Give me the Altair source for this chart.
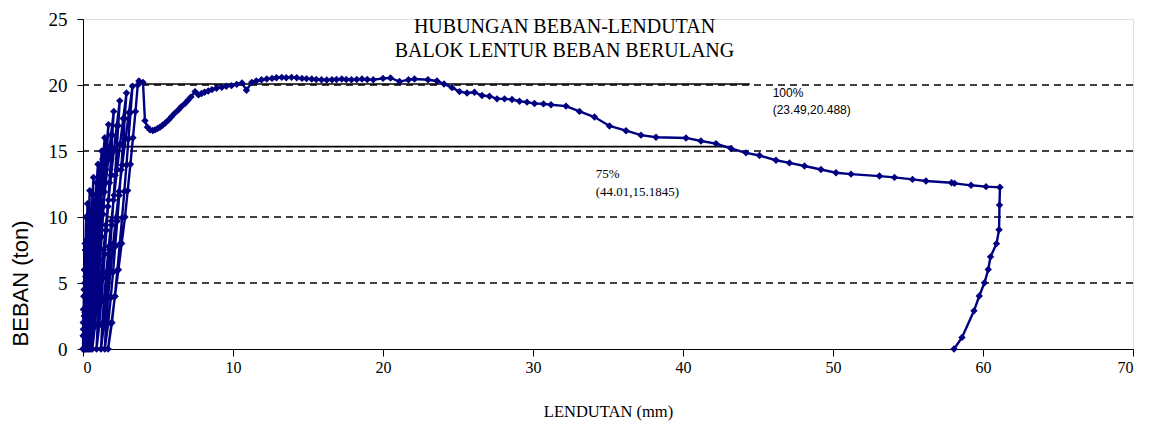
import altair as alt
import pandas as pd

# ---- cyclic loading loops (deflection mm, load ton) ----
loops_mm = [
    [0, 0.01, 0.02, 0.04, 0.06, 0.05, 0.04, 0.03, 0.02],
    [0.03, 0.05, 0.08, 0.10, 0.09, 0.07, 0.06, 0.04],
    [0.06, 0.08, 0.11, 0.14, 0.13, 0.11, 0.09, 0.07],
    [0.09, 0.12, 0.16, 0.20, 0.18, 0.16, 0.13, 0.10],
    [0.13, 0.18, 0.24, 0.30, 0.27, 0.23, 0.19, 0.14],
    [0.19, 0.27, 0.35, 0.45, 0.40, 0.34, 0.28, 0.20],
    [0.225, 0.262, 0.305, 0.352, 0.403, 0.458, 0.515, 0.574, 0.636, 0.70,
     0.665, 0.63, 0.593, 0.556, 0.517, 0.476, 0.434, 0.389, 0.338, 0.27],
    [0.307, 0.36, 0.423, 0.492, 0.566, 0.646, 0.729, 0.816, 0.907, 1.0,
     0.947, 0.894, 0.839, 0.782, 0.723, 0.662, 0.598, 0.529, 0.453, 0.35],
    [0.395, 0.461, 0.538, 0.624, 0.715, 0.814, 0.916, 1.023, 1.135, 1.25,
     1.184, 1.118, 1.049, 0.979, 0.905, 0.829, 0.749, 0.664, 0.568, 0.44],
    [0.491, 0.564, 0.651, 0.747, 0.85, 0.96, 1.075, 1.195, 1.321, 1.45,
     1.375, 1.3, 1.222, 1.142, 1.058, 0.972, 0.881, 0.784, 0.675, 0.53],
    [0.589, 0.674, 0.775, 0.886, 1.005, 1.133, 1.266, 1.405, 1.55, 1.7,
     1.613, 1.524, 1.432, 1.338, 1.24, 1.138, 1.033, 0.918, 0.791, 0.62],
    [0.692, 0.796, 0.919, 1.055, 1.201, 1.356, 1.519, 1.69, 1.867, 2.05,
     1.957, 1.863, 1.765, 1.665, 1.56, 1.452, 1.339, 1.217, 1.082, 0.9],
    [0.978, 1.091, 1.224, 1.371, 1.529, 1.698, 1.875, 2.059, 2.252, 2.45,
     2.349, 2.246, 2.14, 2.031, 1.918, 1.8, 1.678, 1.545, 1.398, 1.2],
    [1.285, 1.409, 1.555, 1.717, 1.89, 2.076, 2.269, 2.472, 2.682, 2.9,
     2.783, 2.664, 2.54, 2.414, 2.282, 2.146, 2.004, 1.85, 1.679, 1.45],
    [1.543, 1.678, 1.837, 2.012, 2.201, 2.403, 2.614, 2.834, 3.063, 3.3,
     3.168, 3.034, 2.896, 2.754, 2.606, 2.452, 2.293, 2.12, 1.928, 1.67],
    [1.9, 2.13, 2.36, 2.58, 2.8, 2.98, 3.16, 3.33, 3.5, 3.65, 3.73],
]
loops_ton = [
    [0, 1, 2, 3, 4, 3, 2, 1, 0],
    [1.5, 3, 4.5, 6, 4.5, 3, 1.5, 0],
    [2, 4, 6, 8, 6, 4, 2, 0],
    [2.5, 5, 7.5, 10, 7.5, 5, 2.5, 0],
    [2.75, 5.5, 8.25, 11, 8.25, 5.5, 2.75, 0],
    [3, 6, 9, 12, 9, 6, 3, 0],
    [1.3, 2.6, 3.9, 5.2, 6.5, 7.8, 9.1, 10.4, 11.7, 13,
     11.7, 10.4, 9.1, 7.8, 6.5, 5.2, 3.9, 2.6, 1.3, 0],
    [1.4, 2.8, 4.2, 5.6, 7, 8.4, 9.8, 11.2, 12.6, 14,
     12.6, 11.2, 9.8, 8.4, 7, 5.6, 4.2, 2.8, 1.4, 0],
    [1.5, 3, 4.5, 6, 7.5, 9, 10.5, 12, 13.5, 15,
     13.5, 12, 10.5, 9, 7.5, 6, 4.5, 3, 1.5, 0],
    [1.6, 3.2, 4.8, 6.4, 8, 9.6, 11.2, 12.8, 14.4, 16,
     14.4, 12.8, 11.2, 9.6, 8, 6.4, 4.8, 3.2, 1.6, 0],
    [1.7, 3.4, 5.1, 6.8, 8.5, 10.2, 11.9, 13.6, 15.3, 17,
     15.3, 13.6, 11.9, 10.2, 8.5, 6.8, 5.1, 3.4, 1.7, 0],
    [1.8, 3.6, 5.4, 7.2, 9, 10.8, 12.6, 14.4, 16.2, 18,
     16.2, 14.4, 12.6, 10.8, 9, 7.2, 5.4, 3.6, 1.8, 0],
    [1.88, 3.76, 5.64, 7.52, 9.4, 11.28, 13.16, 15.04, 16.92, 18.8,
     16.92, 15.04, 13.16, 11.28, 9.4, 7.52, 5.64, 3.76, 1.88, 0],
    [1.94, 3.88, 5.82, 7.76, 9.7, 11.64, 13.58, 15.52, 17.46, 19.4,
     17.46, 15.52, 13.58, 11.64, 9.7, 7.76, 5.82, 3.88, 1.94, 0],
    [1.99, 3.98, 5.97, 7.96, 9.95, 11.94, 13.93, 15.92, 17.91, 19.9,
     17.91, 15.92, 13.93, 11.94, 9.95, 7.96, 5.97, 3.98, 1.99, 0],
    [2, 4, 6, 8, 10, 12, 14, 16, 18, 20, 20.3],
]

# ---- post-peak curve ----
post_mm = [4.0, 4.13, 4.3, 4.47, 4.65, 4.8, 4.97, 5.13, 5.3, 5.47, 5.7, 5.9, 6.1, 6.35,
           6.55, 6.8, 7.0, 7.2, 7.47, 7.7, 7.9, 8.1, 8.35, 8.6, 8.9, 9.25, 9.55, 9.9,
           10.25, 10.6, 10.9, 11.25, 11.55, 11.9, 12.25, 12.6, 12.9, 13.25, 13.55, 13.9,
           14.25, 14.6, 14.9, 15.25, 15.55, 15.9, 16.25, 16.6, 16.9, 17.25, 17.55, 17.9,
           18.25, 18.6, 18.95, 19.35, 20.0, 20.5, 21.1, 21.7, 22.1, 23.0, 23.6, 24.07,
           24.6, 25.1, 25.6, 26.1, 26.6, 27.1, 27.6, 28.1, 28.6, 29.1, 29.6, 30.1, 30.7,
           31.2, 32.2, 33.1, 34.1, 35.1, 36.2, 37.2, 38.2, 40.2, 41.2, 42.2, 43.2, 44.2,
           45.1, 46.2, 47.1, 48.1, 49.2, 50.2, 51.2, 53.1, 54.1, 55.3, 56.2, 57.9, 58.1,
           59.2, 60.2, 61.13, 61.1, 61.07, 60.9, 60.5, 60.35, 60.1, 59.75, 59.4, 58.6, 58.07]
post_ton = [20.2, 17.3, 16.8, 16.6, 16.55, 16.6, 16.7, 16.8, 16.95, 17.1, 17.35, 17.6, 17.85,
            18.1, 18.35, 18.6, 18.85, 19.1, 19.5, 19.25, 19.35, 19.45, 19.55, 19.65, 19.75,
            19.83, 19.9, 19.95, 20.05, 20.16, 19.6, 20.2, 20.3, 20.4, 20.45, 20.5, 20.55,
            20.58, 20.55, 20.58, 20.55, 20.5, 20.48, 20.45, 20.42, 20.4, 20.38, 20.4, 20.42,
            20.45, 20.42, 20.4, 20.42, 20.45, 20.42, 20.4, 20.5, 20.53, 20.26, 20.4, 20.45,
            20.4, 20.3, 20.08, 19.8, 19.5, 19.4, 19.45, 19.2, 19.15, 18.95, 18.95, 18.9,
            18.77, 18.7, 18.6, 18.57, 18.5, 18.4, 18.0, 17.57, 16.9, 16.54, 16.2, 16.04,
            15.99, 15.76, 15.56, 15.19, 14.86, 14.66, 14.3, 14.1, 13.86, 13.6, 13.35, 13.25,
            13.1, 13.0, 12.85, 12.73, 12.6, 12.55, 12.4, 12.3, 12.25, 10.9, 9.04, 7.98,
            6.98, 6.02, 5.02, 4.02, 2.89, 0.88, 0.0]

# ---- reference lines (100% and 75%) ----
ref_start = [3.57, 1.58]
ref_end = [44.45, 43.3]
ref_load = [20.08, 15.33]

# ---- annotations ----
ann_text = ["100%", "(23.49,20.488)", "75%", "(44.01,15.1845)"]
ann_mm = [45.98, 45.98, 34.18, 34.18]
ann_ton = [19.39, 18.1, 13.26, 11.9]
ann_grp = ["a", "a", "b", "b"]

# ---- chart title (two lines, placed inside the plot) ----
title_lines = ["HUBUNGAN BEBAN-LENDUTAN", "BALOK LENTUR BEBAN BERULANG"]
title_mm = [32.1, 32.1]
title_ton = [24.39, 22.6]

grid_vals = [5, 10, 15, 20]
x_ticks = [0, 10, 20, 30, 40, 50, 60, 70]
y_ticks = [0, 5, 10, 15, 20, 25]

NAVY = "#000080"

mm_all, ton_all = [], []
for xs, ys in zip(loops_mm, loops_ton):
    assert len(xs) == len(ys)
    mm_all += xs
    ton_all += ys
assert len(post_mm) == len(post_ton)
mm_all += post_mm
ton_all += post_ton
curve = pd.DataFrame({"mm": mm_all, "ton": ton_all, "i": list(range(len(mm_all)))})

xscale = alt.Scale(domain=[0, 70], nice=False, zero=False)
yscale = alt.Scale(domain=[0, 25], nice=False)

x_axis = alt.Axis(values=x_ticks, grid=False, domainColor="black", tickColor="black",
                  tickSize=7, labelFont="Liberation Serif", labelFontSize=16,
                  labelColor="black", labelPadding=3, title="LENDUTAN (mm)",
                  titleFont="Liberation Serif", titleFontSize=16.5, titleFontWeight="normal",
                  titleColor="black", titleY=67, titleBaseline="alphabetic")
y_axis = alt.Axis(values=y_ticks, grid=False, domainColor="black", tickColor="black",
                  tickSize=6, labelFont="Liberation Serif", labelFontSize=19,
                  labelColor="black", labelPadding=10, title="BEBAN (ton)",
                  titleFont="Liberation Sans", titleFontSize=22, titleFontWeight="normal",
                  titleColor="black", titleAngle=270, titleX=-56, titleY=264,
                  titleBaseline="alphabetic", titleAlign="center")

grid = alt.Chart(pd.DataFrame({"g": grid_vals})).mark_rule(
    color="black", strokeWidth=1.3, strokeDash=[7, 5]
).encode(y=alt.Y("g:Q", scale=yscale, axis=y_axis))

refs = alt.Chart(pd.DataFrame({"x1": ref_start, "x2": ref_end, "y": ref_load})).mark_rule(
    color="black", strokeWidth=1.6
).encode(x=alt.X("x1:Q", scale=xscale, axis=x_axis), x2="x2:Q", y=alt.Y("y:Q", scale=yscale))

line = alt.Chart(curve).mark_line(
    color=NAVY, strokeWidth=2.4,
    point=alt.OverlayMarkDef(shape="diamond", size=55, filled=True, color=NAVY, opacity=1),
).encode(
    x=alt.X("mm:Q", scale=xscale),
    y=alt.Y("ton:Q", scale=yscale),
    order="i:Q",
)

ann = pd.DataFrame({"t": ann_text, "x": ann_mm, "y": ann_ton, "g": ann_grp})
ann_a = alt.Chart(ann[ann.g == "a"]).mark_text(
    align="left", baseline="middle", font="Liberation Sans", fontSize=12, color="black"
).encode(x=alt.X("x:Q", scale=xscale), y=alt.Y("y:Q", scale=yscale), text="t:N")
ann_b = alt.Chart(ann[ann.g == "b"]).mark_text(
    align="left", baseline="middle", font="Liberation Serif", fontSize=13, color="black"
).encode(x=alt.X("x:Q", scale=xscale), y=alt.Y("y:Q", scale=yscale), text="t:N")

title_df = pd.DataFrame({"t": title_lines, "x": title_mm, "y": title_ton})
title_txt = alt.Chart(title_df).mark_text(
    align="center", baseline="middle", font="Liberation Serif", fontSize=20, color="black"
).encode(x=alt.X("x:Q", scale=xscale), y=alt.Y("y:Q", scale=yscale), text="t:N")

chart = alt.layer(grid, refs, line, ann_a, ann_b, title_txt).properties(
    width=1050, height=330,
    autosize=alt.AutoSizeParams(type="none"),
    padding={"left": 75, "top": 11, "right": 12, "bottom": 75},
).configure_view(stroke="#808080", strokeWidth=1).configure(background="white")

chart.save("out.html", embed_options={"renderer": "svg", "actions": False})
